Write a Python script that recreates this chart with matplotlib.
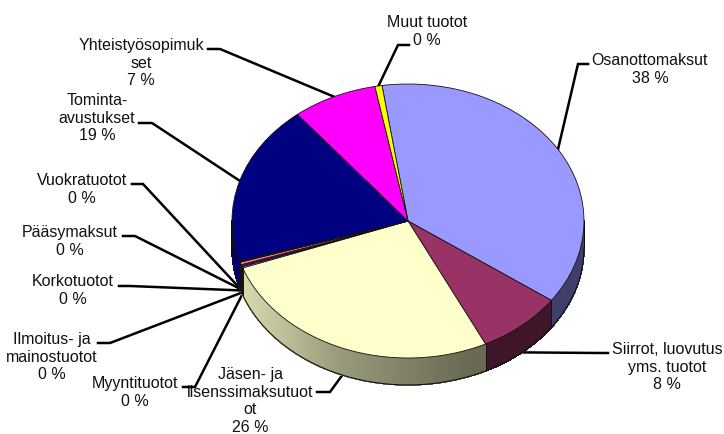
import numpy as np
import matplotlib
matplotlib.use('Agg')
import matplotlib.pyplot as plt
from matplotlib.collections import PolyCollection
from matplotlib.colors import to_rgb

plt.rcParams['font.family'] = ['Liberation Sans', 'DejaVu Sans']

# clockwise from the top of the pie
categories = ['Osanottomaksut', 'Siirrot, luovutus\nyms. tuotot', 'Jäsen- ja\nlisenssimaksutuot\not',
              'Myyntituotot', 'Ilmoitus- ja\nmainostuotot', 'Korkotuotot', 'Pääsymaksut',
              'Vuokratuotot', 'Tominta-\navustukset', 'Yhteistyösopimuk\nset', 'Muut tuotot']
shares = [37.2, 7.9, 26.7, 0.15, 0.25, 0.3, 0.1, 0.05, 18.9, 7.8, 0.65]
percent_labels = ['38 %', '8 %', '26 %', '0 %', '0 %', '0 %', '0 %', '0 %', '19 %', '7 %', '0 %']
colors = ['#9999FF', '#993366', '#FFFFCC', '#CCFFFF', '#660066', '#FF8080',
          '#0066CC', '#CCCCFF', '#000080', '#FF00FF', '#FFFF00']

# pie geometry in pixels
CX, CY, RX, RY, DEPTH = 408, 222, 176, 137, 27
START = -8.5  # degrees clockwise from top

# label centre (x, y of first line), leader end, leader elbow
label_pos = [(650, 61), (667, 350), (250, 375), (135, 384), (52, 340), (73, 282),
             (70, 233), (82, 181), (97, 101), (141, 46), (427, 23)]
leader_end = [(588, 65), (608, 354), (317, 393), (183, 388), (98, 344), (119, 287),
              (123, 237), (132, 185), (139, 124), (208, 50), (409, 46)]
leader_elbow = [(578, 65), (600, 354), (330, 393), (195, 388), (110, 344), (130, 287),
                (135, 237), (143, 185), (152, 124), (220, 50), (398, 46)]

W, H = 724, 435
fig = plt.figure(figsize=(W / 100, H / 100), dpi=100)

# text and leaders, in pixel coordinates
ax_txt = fig.add_axes([0, 0, 1, 1], zorder=0)
ax_txt.set_xlim(0, W)
ax_txt.set_ylim(H, 0)
ax_txt.axis('off')

# pie, in units of the radius, so the pie gets flattened to an ellipse
ax = fig.add_axes([0, 0, 1, 1], zorder=1)
ax.patch.set_alpha(0)

edges = START + np.concatenate([[0], np.cumsum(shares)]) / np.sum(shares) * 360
d = DEPTH / RY


def shade(px):
    # side wall gets darker from left to right
    return np.interp(px, [243, 340, 470], [0.85, 0.60, 0.41])


# side wall, only on the lower half of the pie
polys, faces = [], []
for i, c in enumerate(colors):
    a0, a1 = max(edges[i], 90), min(edges[i + 1], 270)
    if a1 <= a0:
        continue
    steps = np.linspace(a0, a1, max(2, int((a1 - a0) * 2) + 1))
    for s0, s1 in zip(steps[:-1], steps[1:]):
        t0, t1 = np.radians(s0), np.radians(s1)
        x0, y0, x1, y1 = np.sin(t0), np.cos(t0), np.sin(t1), np.cos(t1)
        polys.append([(x0, y0), (x1, y1), (x1, y1 - d), (x0, y0 - d)])
        k = shade(CX + RX * (x0 + x1) / 2)
        faces.append(tuple(v * k for v in to_rgb(c)))
ax.add_collection(PolyCollection(polys, facecolors=faces, edgecolors=faces, linewidths=0.5,
                                 antialiaseds=False))

# outline of the wall
t = np.radians(np.linspace(90, 270, 200))
ax.plot(np.sin(t), np.cos(t) - d, color='#111111', lw=0.8)
for e in [90, 270] + [v for v in edges if 90 < v < 270]:
    te = np.radians(e)
    ax.plot([np.sin(te)] * 2, [np.cos(te), np.cos(te) - d], color='#111111', lw=0.7)

ax.pie(shares, colors=colors, startangle=90 - START, counterclock=False, radius=1,
       wedgeprops={'edgecolor': '#111111', 'linewidth': 0.6})
ax.set_aspect('auto')
ax.set_xlim((0 - CX) / RX, (W - CX) / RX)
ax.set_ylim((CY - H) / RY, CY / RY)
ax.axis('off')

for i, name in enumerate(categories):
    mid = np.radians((edges[i] + edges[i + 1]) / 2)
    ax_x = CX + RX * np.sin(mid)
    ax_y = CY - RY * np.cos(mid)
    if np.cos(mid) < 0:
        ax_y += DEPTH
    ex, ey = leader_end[i]
    bx, by = leader_elbow[i]
    ax_txt.plot([ex, bx, ax_x], [ey, by, ax_y], color='black', lw=1.8, solid_joinstyle='miter')
    lx, ly = label_pos[i]
    ax_txt.text(lx, ly - 8, name + '\n' + percent_labels[i], ha='center', va='top', fontsize=11.5,
                linespacing=1.22, color='#111111')

fig.savefig('out.png', dpi=100)
